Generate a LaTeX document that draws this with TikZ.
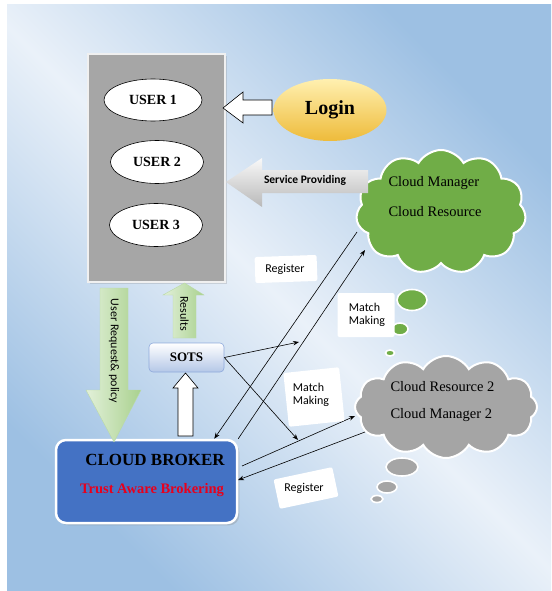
\documentclass[tikz,border=0pt]{standalone}
\usepackage{fontspec}
\setmainfont{Liberation Serif}
\newfontfamily\sansf{Carlito}
\usetikzlibrary{shapes.geometric,shapes.symbols,shadows,calc,arrows.meta}
\definecolor{bgblue}{HTML}{9DC0E3}
\definecolor{bglight}{HTML}{EAF1F9}
\definecolor{boxgray}{HTML}{A6A6A6}
\definecolor{cgreen}{HTML}{70AD47}
\definecolor{cgray}{HTML}{A5A5A5}
\definecolor{brokerblue}{HTML}{4472C4}
\definecolor{lgreenA}{HTML}{E2F0D9}
\definecolor{lgreenB}{HTML}{A9D18E}
\definecolor{sotsA}{HTML}{FFFFFF}
\definecolor{sotsB}{HTML}{B4C7E7}
\definecolor{sotsedge}{HTML}{8FAADC}
\definecolor{loginA}{HTML}{FFF0B0}
\definecolor{loginB}{HTML}{EEBB3A}
\definecolor{trustred}{HTML}{E8001C}
\tikzset{
  userell/.style={ellipse, draw=black, line width=0.6pt, fill=white, inner sep=0pt,
    font=\fontsize{14}{16}\selectfont\bfseries},
  conn/.style={draw=black, line width=0.6pt, -{Stealth[length=6pt,width=4.5pt]}},
  labelbox/.style={fill=white, rounded corners=2pt, inner sep=0pt},
  labeltext/.style={font=\sansf\fontsize{12}{13.5}\selectfont, align=left},
  whitearrow/.style={fill=white, draw=black, line width=0.6pt},
  greenarrow/.style={left color=lgreenA, right color=lgreenB, draw=lgreenB!80!white, line width=0.4pt},
  bubble/.style={ellipse, draw=white, line width=1.6pt, inner sep=0pt},
  cloudtext/.style={anchor=west, font=\fontsize{14.5}{16}\selectfont},
}
\begin{document}
\begin{tikzpicture}[x=1pt,y=-1pt]
\useasboundingbox (0,0) rectangle (551,591);
% background
\shade[top color=bgblue, bottom color=bgblue, middle color=bglight, shading angle=-45]
  (7,5) rectangle (551,591);

% user panel
\node[rectangle, fill=boxgray, draw=white!88!gray, line width=2.5pt, minimum width=137pt,
  minimum height=228pt, inner sep=0pt, drop shadow={opacity=0.25}] (users) at (156.5,168) {};
\node[userell, minimum width=98pt, minimum height=42pt] (u1) at (153,100) {USER 1};
\node[userell, minimum width=93pt, minimum height=43pt] (u2) at (157,162) {USER 2};
\node[userell, minimum width=93pt, minimum height=43pt] (u3) at (156,225) {USER 3};

% login
\node[ellipse, top color=loginA, bottom color=loginB, minimum width=113pt, minimum height=62pt,
  inner sep=0pt, font=\fontsize{20}{22}\selectfont\bfseries] (login) at (330,110) {Login};
\draw[whitearrow] (223,108) -- (243,92) -- (243,100) -- (272,100) -- (272,115)
  -- (243,115) -- (243,123) -- cycle;

% green cloud
\node[cloud, cloud puffs=11, cloud puff arc=120, cloud ignores aspect, minimum width=170pt,
  minimum height=124pt, fill=cgreen, draw=white, line width=2pt, inner sep=0pt] (gcloud) at (441,212) {};
\node[cloudtext] (gct1) at (385,183) {Cloud Manager};
\node[cloudtext] (gct2) at (385,212) {Cloud Resource};
\node[bubble, fill=cgreen, minimum width=30pt, minimum height=21pt] (gb1) at (412,300) {};
\node[bubble, fill=cgreen, minimum width=16pt, minimum height=12pt] (gb2) at (400,329) {};
\node[bubble, fill=cgreen, minimum width=9pt, minimum height=6pt] (gb3) at (390,353) {};

% service providing arrow
\shade[top color=white!95!gray, bottom color=gray!55!white]
  (226,182) -- (262,158) -- (262,170) -- (368,170) -- (368,193) -- (262,193) -- (262,207) -- cycle;
\node[font=\sansf\bfseries\fontsize{11.5}{13}\selectfont] (sp) at (305,180) {Service Providing};

% gray cloud
\node[cloud, cloud puffs=12, cloud puff arc=120, cloud ignores aspect, minimum width=182pt,
  minimum height=102pt, fill=cgray, draw=white, line width=2pt, inner sep=0pt] (rcloud) at (446,407) {};
\node[cloudtext] (rct1) at (387,387) {Cloud Resource 2};
\node[cloudtext] (rct2) at (387,415) {Cloud Manager 2};
\node[bubble, fill=cgray, minimum width=32pt, minimum height=18pt] (rb1) at (402,467) {};
\node[bubble, fill=cgray, minimum width=20pt, minimum height=12pt] (rb2) at (387,487) {};
\node[bubble, fill=cgray, minimum width=12pt, minimum height=7pt] (rb3) at (377,499) {};

% broker
\node[rectangle, rounded corners=10pt, fill=brokerblue, draw=white, line width=2.5pt,
  minimum width=181pt, minimum height=83pt, inner sep=0pt, drop shadow={opacity=0.3}] (broker) at (146.5,481.5) {};
\node[font=\fontsize{17}{19}\selectfont\bfseries] (bt1) at (155,460) {CLOUD BROKER};
\node[font=\fontsize{14.5}{16}\selectfont\bfseries, text=trustred] (bt2) at (152,490) {Trust Aware Brokering};

% SOTS
\node[rectangle, rounded corners=4pt, top color=sotsA, bottom color=sotsB, draw=sotsedge,
  line width=0.6pt, minimum width=75pt, minimum height=29pt, inner sep=0pt,
  font=\fontsize{13}{15}\selectfont\bfseries] (sots) at (186.5,357.5) {SOTS};

% user request arrow (down)
\draw[greenarrow] (100,288) -- (128,288) -- (128,390) -- (141,390) -- (114,442) -- (86,390)
  -- (100,390) -- cycle;
\node[rotate=-90, font=\sansf\fontsize{12}{13}\selectfont] (ureq) at (114,351) {User Request\& policy};
% results arrow (up)
\draw[greenarrow] (173,338) -- (173,295) -- (163,295) -- (184.5,283) -- (204,295) -- (196,295)
  -- (196,338) -- cycle;
\node[rotate=-90, font=\sansf\fontsize{12}{13}\selectfont] (res) at (184.5,314) {Results};
% white arrow broker -> sots
\draw[whitearrow] (178,436) -- (178,388) -- (173,388) -- (185.5,373) -- (198,388) -- (193,388)
  -- (193,436) -- cycle;

% connector end points
\coordinate (gc1) at (357,232);
\coordinate (gc2) at (365,250);
\coordinate (bk1) at ($(broker.north east)+(-24,0)$);
\coordinate (bk2) at (broker.north east);
\coordinate (m1) at (299,342);
\coordinate (m2) at (298,440);
\coordinate (bk3) at (242,466);
\coordinate (bk4) at (238,480);
\coordinate (rc1) at (355,416);
\coordinate (rc2) at (365,432);

\draw[conn] (gc1) -- (bk1);
\draw[conn] (bk2) -- (gc2);
\draw[conn] (sots.east) -- (m1);
\draw[conn] (sots.east) -- (m2);
\draw[conn] (bk3) -- (rc1);
\draw[conn] (rc2) -- (bk4);

% labels
\node[labelbox, minimum width=62pt, minimum height=26pt, rotate=2] (reg1box) at (286,269) {};
\node[labeltext] (reg1) at (285,269) {Register};
\node[labelbox, minimum width=57pt, minimum height=44pt] (mm1box) at (366,315) {};
\node[labeltext] (mm1) at (367,315) {Match\\Making};
\node[labelbox, minimum width=56pt, minimum height=54pt, rotate=6] (mm2box) at (314,397) {};
\node[labeltext] (mm2) at (311,395) {Match\\Making};
\node[labelbox, minimum width=60pt, minimum height=30pt, rotate=12] (reg2box) at (306,488) {};
\node[labeltext] (reg2) at (304,488) {Register};
\end{tikzpicture}
\end{document}
